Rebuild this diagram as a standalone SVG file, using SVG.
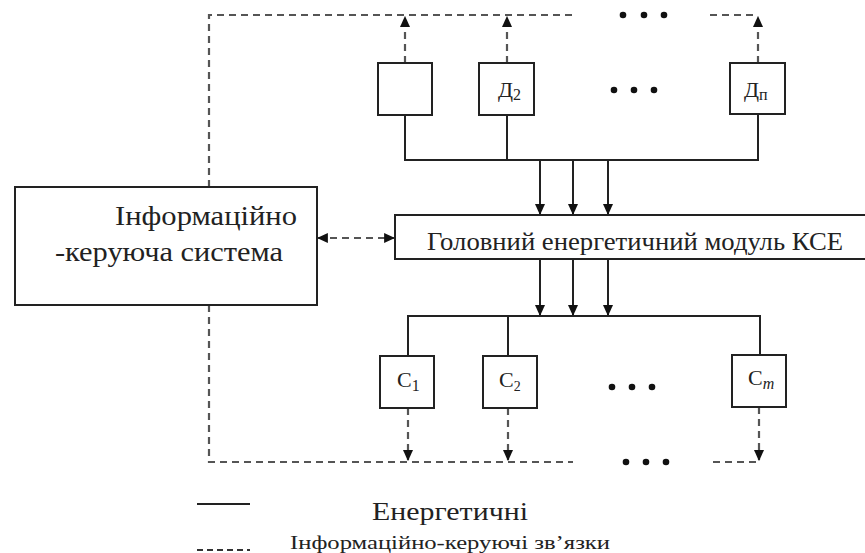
<svg xmlns="http://www.w3.org/2000/svg" width="865" height="553" viewBox="0 0 865 553" font-family="Liberation Serif, Times New Roman, serif">
<style>
.box{fill:#fff;stroke:#222;stroke-width:2}
.solid{fill:none;stroke:#222;stroke-width:2}
.dash{fill:none;stroke:#555;stroke-width:2.2;stroke-dasharray:7 5}
.t{fill:#222;font-family:"Liberation Serif",serif}
.dot{fill:#111}
</style>
<defs>
<marker id="ah" viewBox="0 0 10 10" refX="9" refY="5" markerWidth="11" markerHeight="10" markerUnits="userSpaceOnUse" orient="auto" preserveAspectRatio="none">
<path d="M0,0 L10,5 L0,10 z" fill="#111"/>
</marker>
<marker id="ahs" viewBox="0 0 10 10" refX="9" refY="5" markerWidth="11" markerHeight="10" markerUnits="userSpaceOnUse" orient="auto-start-reverse" preserveAspectRatio="none">
<path d="M0,0 L10,5 L0,10 z" fill="#111"/>
</marker>
</defs>
<rect width="865" height="553" fill="#fff"/>

<g id="connectors">
<path class="dash" d="M209,187 V15 H573"/>
<path class="dash" d="M710,15 H758"/>
<g class="dot"><circle cx="623" cy="15" r="3.3"/><circle cx="644" cy="15" r="3.3"/><circle cx="664" cy="15" r="3.3"/></g>
<path class="dash" d="M209,305 V462 H573"/>
<path class="dash" d="M713,462 H759"/>
<g class="dot"><circle cx="626" cy="462" r="3.3"/><circle cx="646" cy="462" r="3.3"/><circle cx="666" cy="462" r="3.3"/></g>
<line class="dash" x1="405" y1="63" x2="405" y2="17" marker-end="url(#ah)"/>
<line class="dash" x1="507" y1="63" x2="507" y2="17" marker-end="url(#ah)"/>
<line class="dash" x1="758" y1="63" x2="758" y2="17" marker-end="url(#ah)"/>
<path class="solid" d="M405,115 V160 H758 V114"/>
<line class="solid" x1="507" y1="115" x2="507" y2="160"/>
<line class="solid" x1="540" y1="160" x2="540" y2="214" marker-end="url(#ah)"/>
<line class="solid" x1="573" y1="160" x2="573" y2="214" marker-end="url(#ah)"/>
<line class="solid" x1="608" y1="160" x2="608" y2="214" marker-end="url(#ah)"/>
<line class="solid" x1="540" y1="259" x2="540" y2="315" marker-end="url(#ah)"/>
<line class="solid" x1="573" y1="259" x2="573" y2="315" marker-end="url(#ah)"/>
<line class="solid" x1="608" y1="259" x2="608" y2="315" marker-end="url(#ah)"/>
<path class="solid" d="M408,356 V316 H760 V355"/>
<line class="solid" x1="508" y1="316" x2="508" y2="356"/>
<line class="dash" x1="408" y1="408" x2="408" y2="460" marker-end="url(#ah)"/>
<line class="dash" x1="508" y1="408" x2="508" y2="460" marker-end="url(#ah)"/>
<line class="dash" x1="759" y1="407" x2="759" y2="460" marker-end="url(#ah)"/>
<line class="dash" x1="318" y1="238" x2="394" y2="238" marker-start="url(#ahs)" marker-end="url(#ah)"/>
</g>

<g id="ics">
<rect class="box" x="15" y="187" width="302" height="118"/>
<text class="t" x="115" y="225" font-size="27" textLength="182" lengthAdjust="spacingAndGlyphs">Інформаційно</text>
<text class="t" x="55" y="261" font-size="27" textLength="228" lengthAdjust="spacingAndGlyphs">-керуюча система</text>
</g>

<g id="module">
<rect class="box" x="395" y="215" width="480" height="44"/>
<text class="t" x="427" y="250" font-size="25" textLength="416" lengthAdjust="spacingAndGlyphs">Головний енергетичний модуль КСЕ</text>
</g>

<g id="d1"><rect class="box" x="378" y="63" width="54" height="52"/></g>
<g id="d2"><rect class="box" x="479" y="63" width="55" height="52"/>
<text class="t" x="498" y="97" font-size="22">Д<tspan font-size="16" dy="3">2</tspan></text></g>
<g id="dn"><rect class="box" x="730" y="63" width="55" height="51"/>
<text class="t" x="744" y="97" font-size="22">Д<tspan font-size="16" dy="3">п</tspan></text></g>
<g id="ddots" class="dot"><circle cx="614" cy="90" r="3.3"/><circle cx="634" cy="90" r="3.3"/><circle cx="654" cy="90" r="3.3"/></g>

<g id="c1"><rect class="box" x="380" y="356" width="54" height="52"/>
<text class="t" x="397" y="387" font-size="22">C<tspan font-size="16" dy="4">1</tspan></text></g>
<g id="c2"><rect class="box" x="483" y="356" width="54" height="52"/>
<text class="t" x="499" y="387" font-size="22">C<tspan font-size="14" dy="4">2</tspan></text></g>
<g id="cm"><rect class="box" x="732" y="355" width="54" height="52"/>
<text class="t" x="748" y="385" font-size="22">C<tspan font-size="16" dy="4" font-style="italic">m</tspan></text></g>
<g id="cdots" class="dot"><circle cx="612" cy="387" r="3.3"/><circle cx="632" cy="387" r="3.3"/><circle cx="652" cy="387" r="3.3"/></g>

<g id="legend">
<line class="solid" x1="197" y1="504" x2="250" y2="504"/>
<text class="t" x="372" y="520" font-size="26" textLength="156" lengthAdjust="spacingAndGlyphs">Енергетичні</text>
<line x1="197" y1="550" x2="250" y2="550" stroke="#333" stroke-width="2" stroke-dasharray="6 4"/>
<text class="t" x="290" y="549" font-size="18" textLength="320" lengthAdjust="spacingAndGlyphs">Інформаційно-керуючі зв’язки</text>
</g>
</svg>
